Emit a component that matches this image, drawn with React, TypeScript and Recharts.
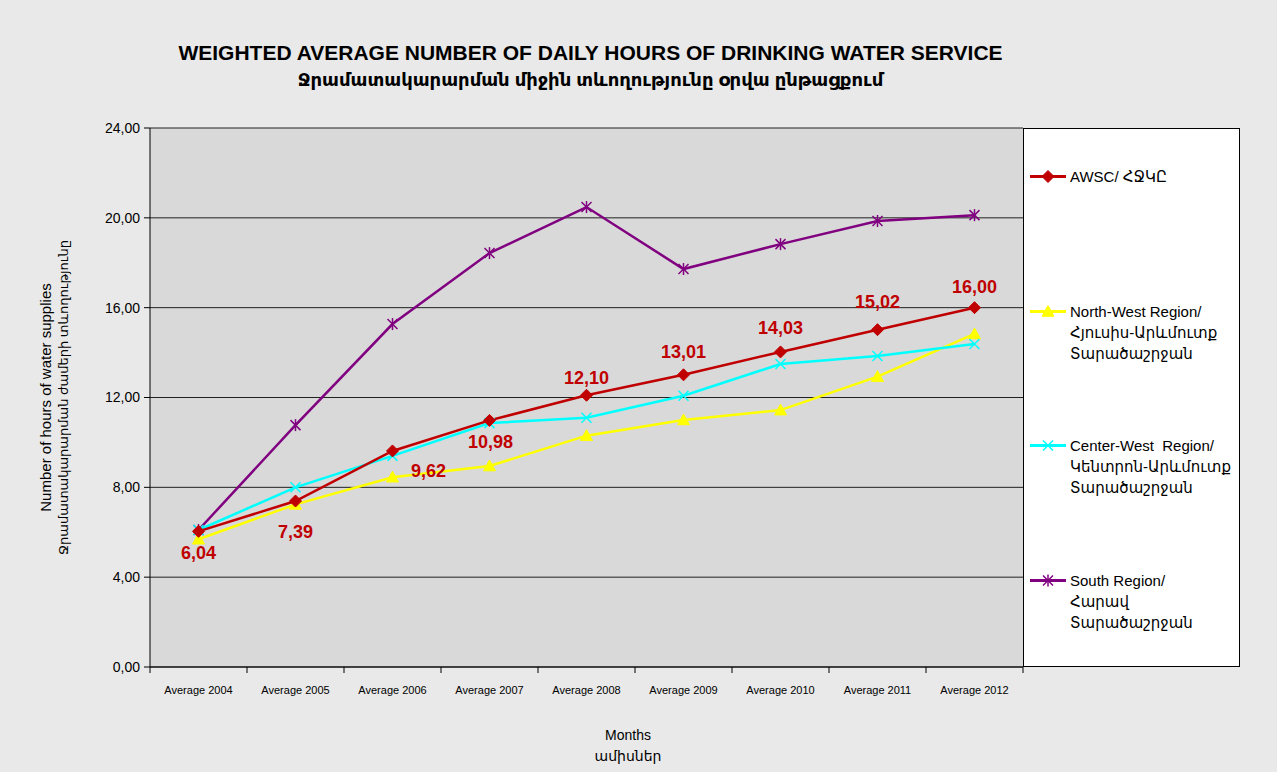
import React from 'react';
import { LineChart, Line, XAxis, YAxis, CartesianGrid, Legend, LabelList, Label } from 'recharts';

const categories = ['Average 2004', 'Average 2005', 'Average 2006', 'Average 2007', 'Average 2008', 'Average 2009', 'Average 2010', 'Average 2011', 'Average 2012'];
const awsc = [6.04, 7.39, 9.62, 10.98, 12.1, 13.01, 14.03, 15.02, 16.0];
const northWest = [5.69, 7.24, 8.45, 8.95, 10.3, 11.0, 11.44, 12.93, 14.83];
const centerWest = [6.1, 8.0, 9.4, 10.86, 11.1, 12.08, 13.49, 13.85, 14.38];
const south = [6.1, 10.77, 15.27, 18.43, 20.48, 17.72, 18.83, 19.86, 20.12];
const yTicks = [0, 4, 8, 12, 16, 20, 24];

const titleLine1 = 'WEIGHTED AVERAGE NUMBER OF DAILY HOURS OF DRINKING WATER SERVICE';
const titleLine2 = 'Ջրամատակարարման միջին տևողությունը օրվա ընթացքում';
const yLabel1 = 'Number of hours of water supplies';
const yLabel2 = 'Ջրամատակարարման ժամերի տևողությունը';
const xLabel1 = 'Months';
const xLabel2 = 'ամիսներ';

const seriesDefs = [
  { key: 'awsc', names: ['AWSC/ ՀՋԿԸ'], color: '#C00000', marker: 'diamond' },
  { key: 'northWest', names: ['North-West Region/', 'Հյուսիս-Արևմուտք', 'Տարածաշրջան'], color: '#FFFF00', marker: 'triangle' },
  { key: 'centerWest', names: ['Center-West  Region/', 'Կենտրոն-Արևմուտք', 'Տարածաշրջան'], color: '#00FFFF', marker: 'x' },
  { key: 'south', names: ['South Region/', 'Հարավ', 'Տարածաշրջան'], color: '#800080', marker: 'star' },
];

const data = categories.map((c, i) => ({
  name: c,
  awsc: awsc[i],
  northWest: northWest[i],
  centerWest: centerWest[i],
  south: south[i],
}));

// label placement offsets (layout only)
const labelOffsets: [number, number][] = [
  [0, 22], [0, 31], [36, 20], [1, 22], [0, -17], [0, -23], [0, -24], [0, -28], [0, -21],
];

const FONT = '"Liberation Sans", Arial, "DejaVu Sans", sans-serif';
const fmt = (v: number) => v.toFixed(2).replace('.', ',');
const HALF_BAND = 48.5;

function Marker({ type, cx, cy, color }: { type: string; cx: number; cy: number; color: string }) {
  if (cx == null || cy == null) return null;
  if (type === 'diamond') {
    const r = 6;
    return <polygon points={`${cx},${cy - r} ${cx + r},${cy} ${cx},${cy + r} ${cx - r},${cy}`} fill={color} stroke={color} />;
  }
  if (type === 'triangle') {
    const r = 6;
    return <polygon points={`${cx},${cy - r} ${cx + r},${cy + r * 0.8} ${cx - r},${cy + r * 0.8}`} fill={color} stroke={color} />;
  }
  if (type === 'x') {
    const r = 5;
    return (
      <g stroke={color} strokeWidth={1.5}>
        <line x1={cx - r} y1={cy - r} x2={cx + r} y2={cy + r} />
        <line x1={cx - r} y1={cy + r} x2={cx + r} y2={cy - r} />
      </g>
    );
  }
  const r = 5;
  return (
    <g stroke={color} strokeWidth={1.5}>
      <line x1={cx - r} y1={cy - r} x2={cx + r} y2={cy + r} />
      <line x1={cx - r} y1={cy + r} x2={cx + r} y2={cy - r} />
      <line x1={cx} y1={cy - 6} x2={cx} y2={cy + 6} />
    </g>
  );
}

const makeDot = (type: string, color: string) => (props: any) => (
  <Marker key={`d-${props.index}`} type={type} cx={props.cx} cy={props.cy} color={color} />
);

const XTick = (props: any) => {
  const { x, y, payload, index } = props;
  return (
    <g>
      <line x1={x - HALF_BAND} y1={y} x2={x - HALF_BAND} y2={y + 6} stroke="#000" />
      {index === categories.length - 1 && <line x1={x + HALF_BAND} y1={y} x2={x + HALF_BAND} y2={y + 6} stroke="#000" />}
      <text x={x} y={y + 27} textAnchor="middle" fontSize={11} fontFamily={FONT} fill="#000">{payload.value}</text>
    </g>
  );
};

const AwscLabel = (props: any) => {
  const { x, y, value, index } = props;
  const [dx, dy] = labelOffsets[index] || [0, -20];
  return (
    <text x={x + dx} y={y + dy} textAnchor="middle" dominantBaseline="central" fontSize={18} fontWeight="bold" fontFamily={FONT} fill="#C00000">
      {fmt(value)}
    </text>
  );
};

const LegendContent = () => (
  <div style={{ width: 217, height: 539, boxSizing: 'border-box', border: '1px solid #000', background: '#fff', fontFamily: FONT, fontSize: 15, color: '#000' }}>
    {seriesDefs.map((s) => (
      <div key={s.key} style={{ height: 134.5, boxSizing: 'border-box', paddingTop: 37, display: 'flex', alignItems: 'flex-start' }}>
        <svg width={44} height={21} style={{ flex: 'none' }}>
          <line x1={6} y1={10.5} x2={42} y2={10.5} stroke={s.color} strokeWidth={3} />
          <Marker type={s.marker} cx={24} cy={10.5} color={s.color} />
        </svg>
        <div style={{ marginLeft: 2, lineHeight: '21px' }}>
          {s.names.map((n, i) => (
            <div key={i} style={{ whiteSpace: 'pre' }}>{n}</div>
          ))}
        </div>
      </div>
    ))}
  </div>
);

const YLabel = (props: any) => {
  const vb = props.viewBox || {};
  const cy = vb.y + vb.height / 2;
  return (
    <g fontFamily={FONT} fill="#000">
      <text x={45} y={cy} fontSize={15} transform={`rotate(-90 45 ${cy})`} textAnchor="middle" dominantBaseline="central">{yLabel1}</text>
      <text x={63} y={cy} fontSize={13} transform={`rotate(-90 63 ${cy})`} textAnchor="middle" dominantBaseline="central">{yLabel2}</text>
    </g>
  );
};

export default function App() {
  return (
    <div style={{ position: 'absolute', left: 0, top: 0, width: 1277, height: 772, background: '#e9e9e9', fontFamily: FONT }}>
      <div style={{ position: 'absolute', left: 0, width: 1181, top: 41, textAlign: 'center', fontSize: 21, fontWeight: 'bold', lineHeight: '24px' }}>{titleLine1}</div>
      <div style={{ position: 'absolute', left: 0, width: 1181, top: 68, textAlign: 'center', fontSize: 18, fontWeight: 'bold', lineHeight: '24px' }}>{titleLine2}</div>
      <div style={{ position: 'absolute', left: 0, width: 1256, top: 725, textAlign: 'center', fontSize: 14, lineHeight: '21px' }}>
        <div>{xLabel1}</div>
        <div>{xLabel2}</div>
      </div>
      <div style={{ position: 'absolute', left: 0, top: 0 }}>
        <LineChart width={1277} height={772} data={data} margin={{ top: 128, right: 254, bottom: 75, left: 90 }}>
          <CartesianGrid vertical={false} fill="#d9d9d9" stroke="#000" strokeOpacity={0.85} />
          <XAxis dataKey="name" height={30} padding={{ left: HALF_BAND, right: HALF_BAND }} tickSize={0} tickMargin={0} tick={<XTick />} axisLine={{ stroke: '#000' }} tickLine={false} interval={0} />
          <YAxis width={60} domain={[0, 24]} ticks={yTicks} tickFormatter={fmt} tickSize={6} tickMargin={4} axisLine={{ stroke: '#000' }} tickLine={{ stroke: '#000' }} tick={{ fontSize: 14, fill: '#000', fontFamily: FONT }}>
            <Label content={<YLabel />} />
          </YAxis>
          <Legend layout="vertical" align="center" verticalAlign="middle" content={<LegendContent />} wrapperStyle={{ left: 1023, top: 128, width: 217, height: 539 }} />
          <Line dataKey="south" name="South Region" stroke="#800080" strokeWidth={2.5} dot={makeDot('star', '#800080')} isAnimationActive={false} />
          <Line dataKey="northWest" name="North-West Region" stroke="#FFFF00" strokeWidth={2.5} dot={makeDot('triangle', '#FFFF00')} isAnimationActive={false} />
          <Line dataKey="centerWest" name="Center-West Region" stroke="#00FFFF" strokeWidth={2.5} dot={makeDot('x', '#00FFFF')} isAnimationActive={false} />
          <Line dataKey="awsc" name="AWSC" stroke="#C00000" strokeWidth={2.5} dot={makeDot('diamond', '#C00000')} isAnimationActive={false}>
            <LabelList dataKey="awsc" content={<AwscLabel />} />
          </Line>
        </LineChart>
      </div>
    </div>
  );
}
